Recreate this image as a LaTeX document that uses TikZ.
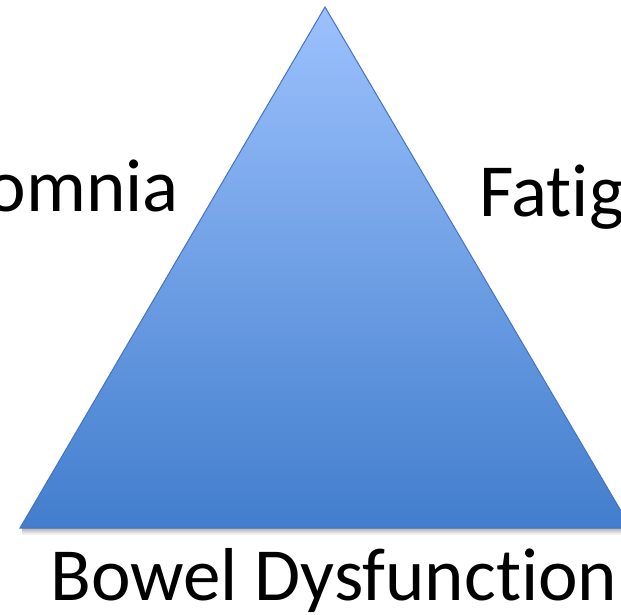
\documentclass[tikz,border=0pt]{standalone}
\usepackage{fontspec}
\setmainfont[Ligatures={NoCommon,NoRare}]{Carlito}
\definecolor{tritop}{RGB}{156,193,253}
\definecolor{trimid}{RGB}{122,165,232}
\definecolor{tribot}{RGB}{66,126,205}
\definecolor{triedge}{RGB}{70,114,196}
\begin{document}
\begin{tikzpicture}[x=1pt,y=-1pt,
  lbl/.style={inner sep=0pt,font=\fontsize{75}{90}\selectfont,text=black}]
\useasboundingbox (0,0) rectangle (621,615);
\clip (0,0) rectangle (621,615);
\coordinate (apex) at (325,7);
\coordinate (bl) at (20,528);
\coordinate (br) at (631,528);
% shadow
\shade[top color=black!30, bottom color=white] (22,528) rectangle (631,535);
\shade[top color=tritop, middle color=trimid, bottom color=tribot]
  (apex) -- (br) -- (bl) -- cycle;
\draw[triedge, line width=1pt, line join=miter] (apex) -- (br) -- (bl) -- cycle;
\node[lbl, anchor=base east] (ins) at (179,211) {Insomnia};
\node[lbl, anchor=base west] (fat) at (479,216) {Fatigue};
\node[lbl, anchor=base west] (bow) at (50,600) {Bowel Dysfunction};
\end{tikzpicture}
\end{document}
